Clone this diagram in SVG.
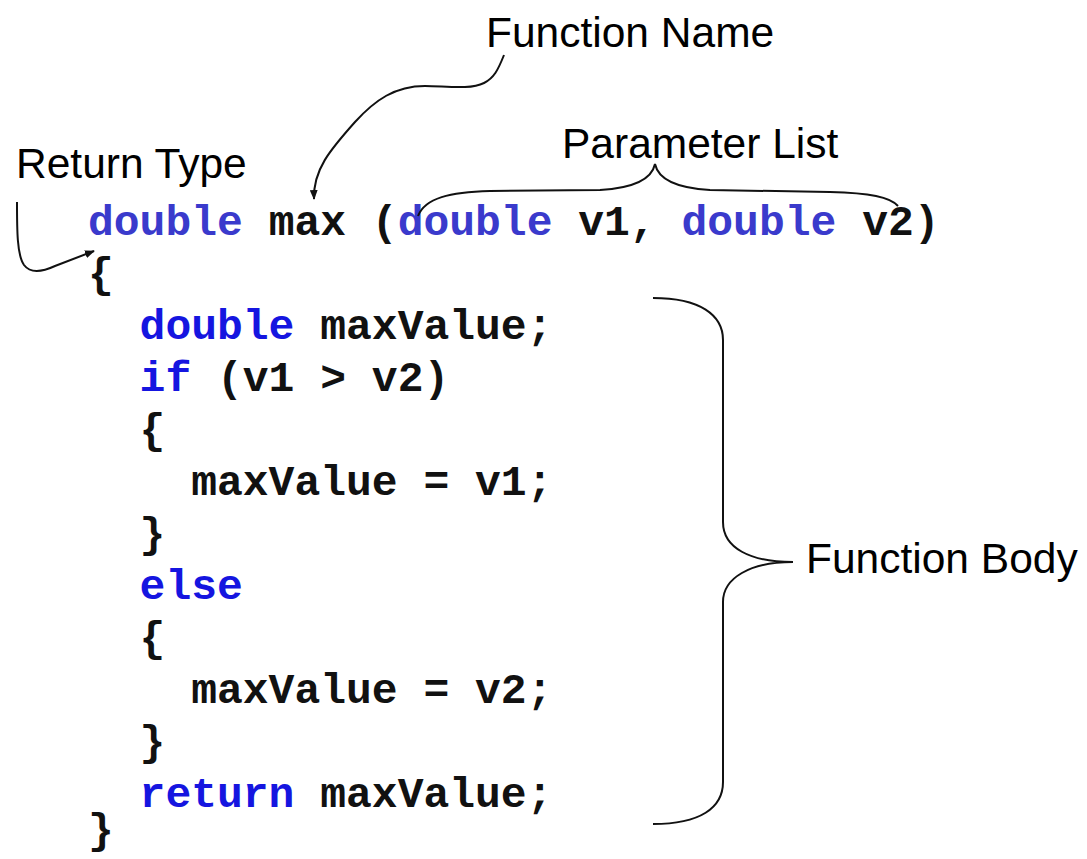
<svg xmlns="http://www.w3.org/2000/svg" width="1087" height="859" viewBox="0 0 1087 859">
  <style>
    .lbl { font-family: "Liberation Sans", Arial, sans-serif; font-size: 42.5px; fill: #000; }
    .code { font-family: "Liberation Mono", "Courier New", monospace; font-size: 43px; font-weight: bold; fill: #111; white-space: pre; }
    .kw1 { fill: #3a3acc; }
    .kw { fill: #1515e0; }
    .conn { fill: none; stroke: #111; stroke-width: 2; }
  </style>
  <defs>
    <marker id="arrow" viewBox="0 0 10 8" refX="9" refY="4" markerWidth="10" markerHeight="8" markerUnits="userSpaceOnUse" orient="auto">
      <path d="M0,0 L10,4 L0,8 Z" fill="#111"/>
    </marker>
  </defs>
  <rect width="1087" height="859" fill="#fff"/>

  <g id="label-function-name"><text class="lbl" x="486" y="47">Function Name</text></g>
  <g id="label-return-type"><text class="lbl" x="16" y="178">Return Type</text></g>
  <g id="label-parameter-list"><text class="lbl" x="562" y="158">Parameter List</text></g>
  <g id="label-function-body"><text class="lbl" x="806" y="573">Function Body</text></g>

  <g id="code" class="code">
    <text x="88" y="235"><tspan class="kw1">double</tspan> max (<tspan class="kw1">double</tspan> v1, <tspan class="kw1">double</tspan> v2)</text>
    <text x="88" y="287">{</text>
    <text x="139.6" y="339"><tspan class="kw">double</tspan> maxValue;</text>
    <text x="139.6" y="391"><tspan class="kw">if</tspan> (v1 &gt; v2)</text>
    <text x="139.6" y="443">{</text>
    <text x="191.2" y="495">maxValue = v1;</text>
    <text x="139.6" y="547">}</text>
    <text x="139.6" y="599"><tspan class="kw">else</tspan></text>
    <text x="139.6" y="651">{</text>
    <text x="191.2" y="703">maxValue = v2;</text>
    <text x="139.6" y="755">}</text>
    <text x="139.6" y="807"><tspan class="kw">return</tspan> maxValue;</text>
    <text x="88" y="843">}</text>
  </g>

  <g id="connectors">
    <path id="arrow-function-name" class="conn" marker-end="url(#arrow)" d="M504,55 C498,70 494,78 484,83 C470,90 445,86 425,86 C395,86 375,100 355,122 C330,150 313,170 314,199"/>
    <path id="arrow-return-type" class="conn" marker-end="url(#arrow)" d="M17,202 C17,230 17,255 24,265 C30,273 42,272 55,266 L94,251"/>
    <path id="brace-parameter-list" class="conn" d="M418,216 C425,198 450,192 490,191 L600,190 C635,188 652,178 655,164 C658,178 675,188 710,190 L830,192 C870,193 890,197 898,206"/>
    <path id="brace-function-body" class="conn" d="M653,298 C700,298 723,315 723,340 L723,522 C723,548 750,562 793,562 C750,562 723,578 723,602 L723,782 C723,808 700,824 653,824"/>
  </g>
</svg>
